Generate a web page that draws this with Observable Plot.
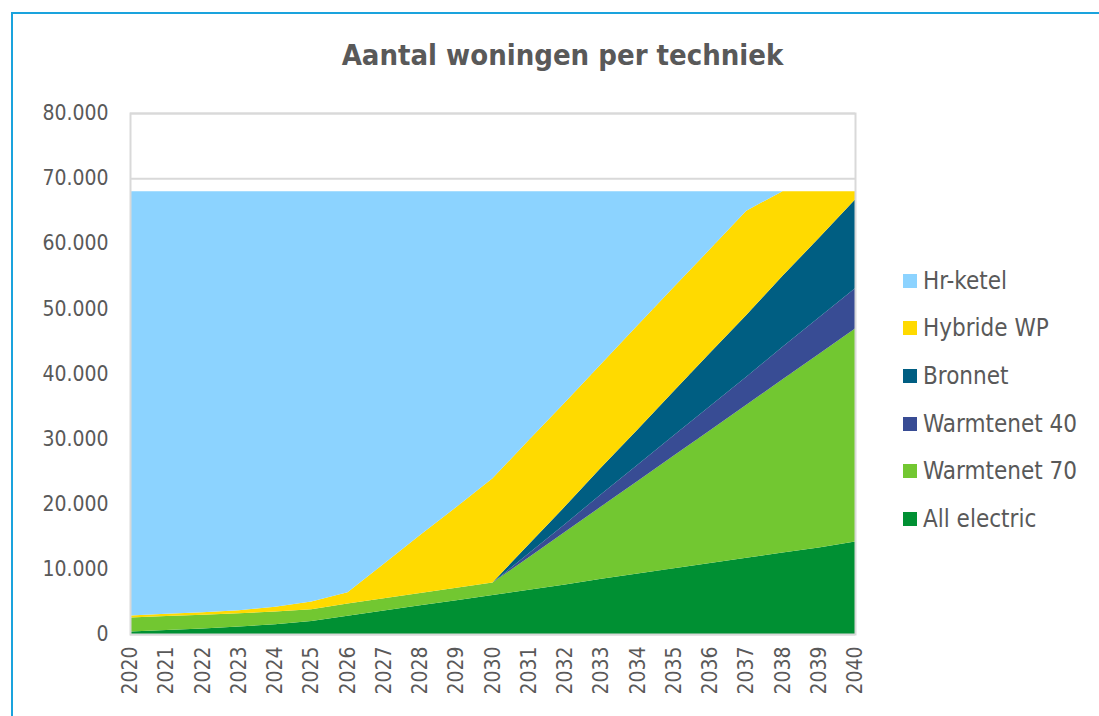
<!DOCTYPE html>
<html><head><meta charset="utf-8">
<script src="https://cdn.jsdelivr.net/npm/d3@7"></script>
<script src="https://cdn.jsdelivr.net/npm/@observablehq/plot@0.6"></script>
<style>
body{margin:0;background:#fff;}
#wrap{position:relative;width:1099px;height:716px;overflow:hidden;font-family:"DejaVu Sans Condensed","DejaVu Sans",sans-serif;color:#595959;}
#frame{position:absolute;left:11px;top:12px;width:1200px;height:800px;border:2px solid #1AA3DD;box-sizing:border-box;}
#title{position:absolute;left:0;width:1125px;top:38px;text-align:center;font-weight:bold;font-size:29px;}
#chart{position:absolute;left:0;top:0;}
#legend{position:absolute;left:903px;top:257px;}
.item{height:47.6px;display:flex;align-items:center;font-size:24px;}
.sw{width:14px;height:14px;margin-right:6px;flex:none;}
</style></head>
<body>
<div id="wrap">
  <div id="frame"></div>
  <div id="title">Aantal woningen per techniek</div>
  <div id="chart"></div>
  <div id="legend"></div>
</div>
<script>
const years = [2020,2021,2022,2023,2024,2025,2026,2027,2028,2029,2030,2031,2032,2033,2034,2035,2036,2037,2038,2039,2040];
const yTicks = [0,10000,20000,30000,40000,50000,60000,70000,80000];

// bottom to top stacking order
const techniques = ["All electric","Warmtenet 70","Warmtenet 40","Bronnet","Hybride WP","Hr-ketel"];
const colors = ["#009033","#72C731","#384C94","#005E82","#FFDA00","#8CD3FF"];

const allElectric = [400,600,850,1150,1500,2000,2800,3600,4400,5200,6000,6800,7600,8500,9300,10100,10900,11700,12500,13300,14200];
const warmtenet70 = [2150,2150,2100,2050,1950,1800,1900,1900,1900,1900,1900,5000,8100,11100,14200,17300,20400,23500,26600,29700,32700];
const warmtenet40 = [0,0,0,0,0,0,0,0,0,0,0,600,1200,1900,2500,3100,3700,4300,5000,5600,6200];
const bronnet     = [0,0,0,0,0,0,0,0,0,0,0,1400,2700,4100,5400,6800,8200,9500,10900,12200,13600];
const hybrideWP   = [300,350,400,450,750,1200,1700,5300,8900,12400,16000,16000,16000,15900,16000,16000,15900,16000,13000,7200,1300];
const hrKetel     = [65150,64900,64650,64350,63800,63000,61600,57200,52800,48500,44100,38200,32400,26500,20600,14700,8900,3000,0,0,0];

const seriesValues = [allElectric, warmtenet70, warmtenet40, bronnet, hybrideWP, hrKetel];
const data = techniques.flatMap((t, k) => years.map((yr, i) => ({year: yr, tech: t, value: seriesValues[k][i]})));

const nl = d3.formatLocale({decimal: ",", thousands: ".", grouping: [3], currency: ["€", ""]});
const fmt = nl.format(",d");

const chart = Plot.plot({
  width: 1099, height: 716,
  marginLeft: 130, marginRight: 244, marginTop: 113, marginBottom: 82,
  style: {fontSize: "21px", fontFamily: "'DejaVu Sans Condensed','DejaVu Sans',sans-serif", color: "#595959", background: "transparent"},
  x: {domain: [2020, 2040]},
  y: {domain: [0, 80000]},
  color: {domain: techniques, range: colors},
  marks: [
    Plot.gridY(yTicks, {stroke: "#D9D9D9", strokeOpacity: 1, strokeWidth: 2}),
    Plot.areaY(data, {x: "year", y: "value", fill: "tech", z: "tech"}),
    Plot.frame({stroke: "#D9D9D9", strokeWidth: 2}),
    Plot.axisY(yTicks, {tickFormat: fmt, tickSize: 0, tickPadding: 22, label: null}),
    Plot.axisX(years, {tickFormat: d => String(d), tickRotate: -90, tickSize: 0, tickPadding: 12, label: null})
  ]
});
document.getElementById("chart").appendChild(chart);

const legend = document.getElementById("legend");
for (let k = techniques.length - 1; k >= 0; k--) {
  const it = document.createElement("div");
  it.className = "item";
  it.innerHTML = `<span class="sw" style="background:${colors[k]}"></span><span>${techniques[k]}</span>`;
  legend.appendChild(it);
}
</script>
</body></html>
